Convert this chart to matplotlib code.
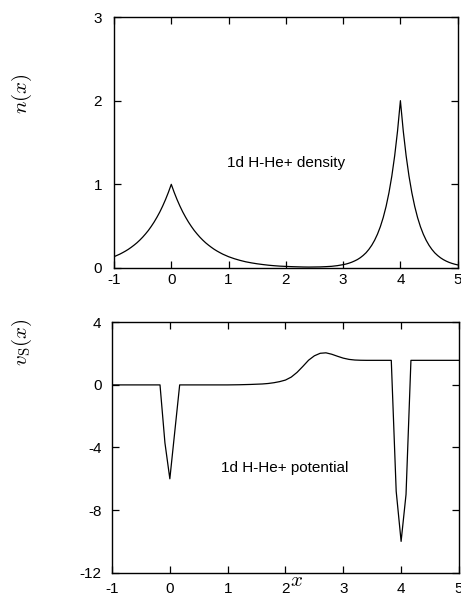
import matplotlib
matplotlib.use("Agg")
from matplotlib import pyplot as plt

plt.rcParams['font.family'] = ['Liberation Sans', 'DejaVu Sans']
plt.rcParams['mathtext.fontset'] = 'cm'
plt.rcParams['axes.unicode_minus'] = False

# density n(x): H at x=0, He+ at x=4
dens_x = [-1.00, -0.95, -0.90, -0.85, -0.80, -0.75, -0.70, -0.65, -0.60, -0.55,
          -0.50, -0.45, -0.40, -0.35, -0.30, -0.25, -0.20, -0.15, -0.10, -0.05,
          0.00, 0.05, 0.10, 0.15, 0.20, 0.25, 0.30, 0.35, 0.40, 0.45,
          0.50, 0.55, 0.60, 0.65, 0.70, 0.75, 0.80, 0.85, 0.90, 0.95, 1.00,
          1.1, 1.2, 1.3, 1.4, 1.5, 1.6, 1.7, 1.8, 1.9, 2.0,
          2.1, 2.2, 2.3, 2.4, 2.5, 2.6, 2.7, 2.8, 2.9,
          3.00, 3.05, 3.10, 3.15, 3.20, 3.25, 3.30, 3.35, 3.40, 3.45,
          3.50, 3.55, 3.60, 3.65, 3.70, 3.75, 3.80, 3.85, 3.90, 3.95,
          4.00, 4.05, 4.10, 4.15, 4.20, 4.25, 4.30, 4.35, 4.40, 4.45,
          4.50, 4.55, 4.60, 4.65, 4.70, 4.75, 4.80, 4.85, 4.90, 4.95, 5.00]
dens_n = [0.135, 0.150, 0.165, 0.183, 0.202, 0.223, 0.247, 0.273, 0.301, 0.333,
          0.368, 0.407, 0.449, 0.497, 0.549, 0.607, 0.670, 0.741, 0.819, 0.905,
          1.000, 0.905, 0.819, 0.741, 0.670, 0.607, 0.549, 0.497, 0.449, 0.407,
          0.368, 0.333, 0.301, 0.273, 0.247, 0.223, 0.202, 0.183, 0.165, 0.150, 0.135,
          0.111, 0.091, 0.074, 0.061, 0.050, 0.041, 0.033, 0.027, 0.022, 0.019,
          0.016, 0.014, 0.012, 0.011, 0.012, 0.013, 0.016, 0.020, 0.028,
          0.040, 0.047, 0.057, 0.069, 0.084, 0.101, 0.123, 0.150, 0.182, 0.223,
          0.272, 0.332, 0.405, 0.494, 0.603, 0.736, 0.899, 1.098, 1.341, 1.637,
          2.000, 1.637, 1.341, 1.098, 0.899, 0.736, 0.602, 0.493, 0.404, 0.331,
          0.271, 0.222, 0.181, 0.149, 0.122, 0.100, 0.082, 0.067, 0.055, 0.045, 0.037]

# Kohn-Sham potential v_s(x)
pot_x = [-1.0, -0.17, -0.085, 0.0, 0.085, 0.17, 0.5, 1.0, 1.2, 1.4,
         1.6, 1.7, 1.8, 1.9, 2.0, 2.1, 2.2, 2.3, 2.4, 2.5,
         2.6, 2.7, 2.8, 2.9, 3.0, 3.1, 3.2, 3.3, 3.4, 3.6,
         3.83, 3.915, 4.0, 4.085, 4.17, 5.0]
pot_v = [0.0, 0.0, -3.7, -6.0, -3.0, 0.0, 0.0, 0.0, 0.01, 0.03,
         0.06, 0.09, 0.14, 0.21, 0.31, 0.50, 0.80, 1.18, 1.58, 1.86,
         2.02, 2.05, 1.96, 1.83, 1.71, 1.63, 1.59, 1.575, 1.57, 1.57,
         1.57, -6.8, -10.0, -7.0, 1.57, 1.57]

x_ticks = [-1, 0, 1, 2, 3, 4, 5]
n_ticks = [0, 1, 2, 3]
v_ticks = [-12, -8, -4, 0, 4]

fig = plt.figure(figsize=(4.61, 5.95), dpi=100)
ax1 = fig.add_axes([0.2473, 0.5496, 0.7455, 0.4218])
ax2 = fig.add_axes([0.2430, 0.0375, 0.7525, 0.4208])


def gnuplot_axes(ax, xpad, ypad):
    for s in ax.spines.values():
        s.set_linewidth(1.0)
    ax.tick_params(direction='in', length=5, width=0.9, top=True, right=True,
                   labelsize=11)
    ax.tick_params(axis='x', pad=xpad)
    ax.tick_params(axis='y', pad=ypad)


ax1.plot(dens_x, dens_n, color='black', lw=0.9)
ax1.set_xlim(-1, 5)
ax1.set_ylim(0, 3)
ax1.set_xticks(x_ticks)
ax1.set_yticks(n_ticks)
gnuplot_axes(ax1, 3.5, 8.5)
ax1.text(2.0, 1.26, '1d H-He+ density', ha='center', va='center', fontsize=11)

ax2.plot(pot_x, pot_v, color='black', lw=0.9)
ax2.set_xlim(-1, 5)
ax2.set_ylim(-12, 4)
ax2.set_xticks(x_ticks)
ax2.set_yticks(v_ticks)
gnuplot_axes(ax2, 6.5, 7.5)
ax2.text(1.99, -5.3, '1d H-He+ potential', ha='center', va='center', fontsize=11)

# axis labels placed by hand, gnuplot-like
fig.text(22 / 461, 1 - 94 / 595, r'$n(x)$', rotation=90, ha='center', va='center',
         fontsize=15)
fig.text(22 / 461, 1 - 342 / 595, r'$v_{\mathrm{S}}(x)$', rotation=90, ha='center',
         va='center', fontsize=15)
fig.text(296 / 461, 1 - 580 / 595, r'$x$', ha='center', va='center', fontsize=15)

fig.savefig('out.png', dpi=100)
